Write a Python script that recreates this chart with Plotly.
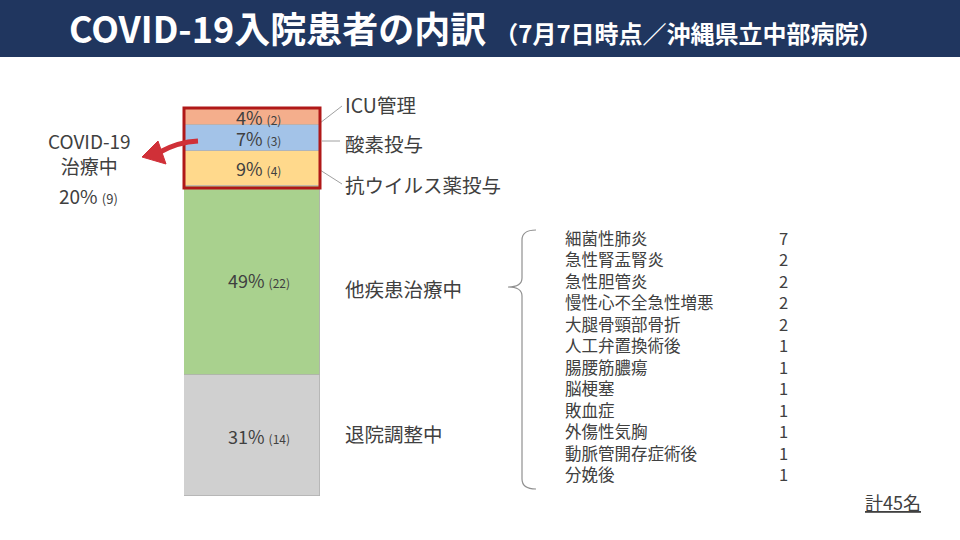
import plotly.graph_objects as go

W, H = 960, 540

# ---- data ----
categories = ["退院調整中", "他疾患治療中", "抗ウイルス薬投与", "酸素投与", "ICU管理"]
counts = [14, 22, 4, 3, 2]
colors = ["#D0D0D0", "#A9D18E", "#FFD98C", "#A3C3E8", "#F4AE8C"]
covid_categories = ["抗ウイルス薬投与", "酸素投与", "ICU管理"]

detail_names = ["細菌性肺炎", "急性腎盂腎炎", "急性胆管炎", "慢性心不全急性増悪", "大腿骨頸部骨折",
                "人工弁置換術後", "腸腰筋膿瘍", "脳梗塞", "敗血症", "外傷性気胸", "動脈管開存症術後", "分娩後"]
detail_counts = [7, 2, 2, 2, 2, 1, 1, 1, 1, 1, 1, 1]

title_main = "COVID-19入院患者の内訳"
title_sub = "（7月7日時点／沖縄県立中部病院）"

total = sum(counts)
covid_total = sum(c for k, c in zip(categories, counts) if k in covid_categories)

FONT = "Noto Sans CJK JP"
TXT = "#404040"

def px(x):
    return x / W

def py(y):
    return 1 - y / H

fig = go.Figure()
for cat, c, col in zip(categories, counts, colors):
    fig.add_trace(go.Bar(
        x=[0], y=[c], name=cat, marker=dict(color=col, line=dict(color="#B0B0B0", width=0.8)),
        width=1, hoverinfo="skip", showlegend=False,
    ))

annotations = []
shapes = []

def note(x, y, text, size, xanchor="center", color=TXT, **kw):
    d = dict(x=px(x), y=py(y), xref="paper", yref="paper", xanchor=xanchor, yanchor="middle",
             showarrow=False, text=text, font=dict(family=FONT, size=size, color=color), borderpad=0)
    d.update(kw)
    annotations.append(d)

# segment labels inside bar
cum = 0
for cat, c in zip(categories, counts):
    mid = cum + c / 2
    cum += c
    pct = round(c / total * 100)
    annotations.append(dict(
        x=0.05, y=mid, xref="x", yref="y", xanchor="center", yanchor="middle", showarrow=False,
        text=f"{pct}% <span style='font-size:12px'>({c})</span>", borderpad=0,
        font=dict(family=FONT, size=18, color=TXT),
    ))

# category labels on right
label_pos = {"ICU管理": 104, "酸素投与": 143, "抗ウイルス薬投与": 184, "他疾患治療中": 288, "退院調整中": 433}
for cat in categories:
    note(344, label_pos[cat], cat, 19.5, xanchor="left")

# leader lines
for (x0, y0, x1, y1) in [(320, 123, 342, 106), (322, 141, 340, 141), (320, 170, 342, 184)]:
    shapes.append(dict(type="line", xref="paper", yref="paper",
                       x0=px(x0), y0=py(y0), x1=px(x1), y1=py(y1),
                       line=dict(color="#A0A0A0", width=1)))

# red box around covid segments
shapes.append(dict(type="rect", xref="paper", yref="paper",
                   x0=px(184), y0=py(108), x1=px(320), y1=py(188),
                   line=dict(color="#B01818", width=3)))

# arrow (curved shaft + head)
shapes.append(dict(type="path", xref="paper", yref="paper",
                   path=f"M {px(198)},{py(141)} Q {px(178)},{py(142)} {px(160)},{py(152)}",
                   line=dict(color="#D03038", width=5)))
shapes.append(dict(type="path", xref="paper", yref="paper",
                   path=f"M {px(142)},{py(157)} L {px(158)},{py(141)} L {px(166)},{py(164)} Z",
                   fillcolor="#D03038", line=dict(color="#D03038", width=1)))

# left COVID text
note(89, 153.5, "COVID-19<br>治療中", 19)
note(88, 196, f"{round(covid_total / total * 100)}% <span style='font-size:13px'>({covid_total})</span>", 19)

# brace
bx = 522
shapes.append(dict(type="path", xref="paper", yref="paper",
                   path=(f"M {px(536)},{py(230)} Q {px(bx)},{py(230)} {px(bx)},{py(240)} "
                         f"L {px(bx)},{py(278)} Q {px(bx)},{py(287)} {px(508)},{py(287)} "
                         f"Q {px(bx)},{py(287)} {px(bx)},{py(296)} "
                         f"L {px(bx)},{py(479)} Q {px(bx)},{py(489)} {px(536)},{py(489)}"),
                   line=dict(color="#909090", width=1.2)))

# detail list (one multi-line block per column)
note(564, 356, "<br>".join(detail_names), 16.5, xanchor="left", align="left")
note(789, 356, "<br>".join(str(c) for c in detail_counts), 16.5, xanchor="right", align="right")

# total
note(922, 502, f"<u>計{total}名</u>", 18, xanchor="right")

# title band
shapes.insert(0, dict(type="rect", xref="paper", yref="paper", x0=0, x1=1, y0=py(57), y1=1,
                      fillcolor="#20365F", line=dict(width=0), layer="below"))
note(476, 27, f"<b>{title_main}</b> <b><span style='font-size:24px'>{title_sub}</span></b>", 36,
     color="white")

fig.update_layout(
    width=W, height=H, margin=dict(l=0, r=0, t=0, b=0),
    paper_bgcolor="white", plot_bgcolor="white", barmode="stack", bargap=0,
    xaxis=dict(domain=[px(184), px(320)], range=[-0.5, 0.5], visible=False, fixedrange=True),
    yaxis=dict(domain=[py(496), py(108)], range=[0, total], visible=False, fixedrange=True),
    shapes=shapes, annotations=annotations,
)

fig.write_html("out.html", config={"displayModeBar": False},
               post_script="document.body.style.margin='0';")
